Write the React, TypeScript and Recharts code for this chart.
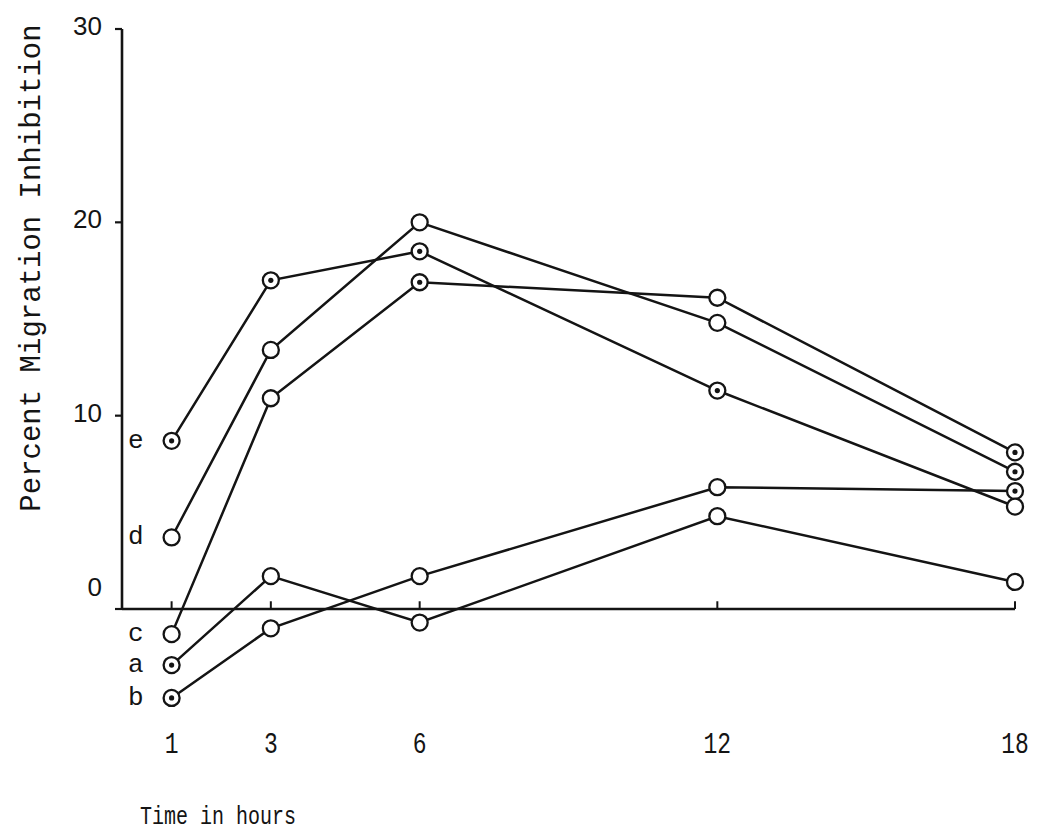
import { LineChart, Line, XAxis, YAxis, ReferenceLine, LabelList } from 'recharts';

// hours after treatment
const hours = [1, 3, 6, 12, 18];
const yTicks = [0, 10, 20, 30];

// percent migration inhibition
const seriesA = [-2.9, 1.7, -0.7, 4.8, 1.4];
const seriesB = [-4.6, -1.0, 1.7, 6.3, 6.1];
const seriesC = [-1.3, 10.9, 16.9, 16.1, 8.1];
const seriesD = [3.7, 13.4, 20.0, 14.8, 7.1];
const seriesE = [8.7, 17.0, 18.5, 11.3, 5.3];

// which points are drawn as a circle with a centre dot
const dotsA = [true, false, false, false, false];
const dotsB = [true, false, false, false, true];
const dotsC = [false, false, true, false, true];
const dotsD = [false, false, false, false, true];
const dotsE = [true, true, true, true, false];

const data = hours.map((h, i) => ({
    hour: h,
    a: seriesA[i],
    b: seriesB[i],
    c: seriesC[i],
    d: seriesD[i],
    e: seriesE[i],
}));

const series = [
    { key: 'a', dots: dotsA },
    { key: 'b', dots: dotsB },
    { key: 'c', dots: dotsC },
    { key: 'd', dots: dotsD },
    { key: 'e', dots: dotsE },
];

const ink = '#141414';
const mono = "'Liberation Mono', 'DejaVu Sans Mono', monospace";

function Marker({ cx, cy, dotted }: any) {
    if (cx == null || cy == null) return null;
    return (
        <g>
            <circle cx={cx} cy={cy} r={8} fill='#fff' stroke={ink} strokeWidth={2.3} />
            {dotted && <circle cx={cx} cy={cy} r={2.6} fill={ink} />}
        </g>
    );
}

function YTick({ x, y, payload }: any) {
    const shift = payload.value === 0 ? -22 : -3;
    return (
        <text
            x={x}
            y={y + shift}
            textAnchor='end'
            dominantBaseline='central'
            fontFamily="'Liberation Sans', Arial, sans-serif"
            fontSize={26}
            fill={ink}
        >
            {payload.value}
        </text>
    );
}

// typewriter digits in the scan are taller than they are wide
function XTick({ x, y, payload }: any) {
    return (
        <text
            transform={`translate(${x} ${y + 20}) scale(1 1.3)`}
            textAnchor='middle'
            fontFamily={mono}
            fontSize={23}
            fill={ink}
        >
            {payload.value}
        </text>
    );
}

export default function App() {
    return (
        <div style={{ width: 1044, height: 840, background: '#fff' }}>
            <style>{'body{margin:0}'}</style>
            <LineChart
                width={1044}
                height={840}
                data={data}
                margin={{ top: 29, right: 29, bottom: 85, left: 92 }}
            >
                <XAxis
                    type='number'
                    dataKey='hour'
                    domain={[0, 18]}
                    ticks={hours}
                    axisLine={false}
                    tickLine={false}
                    tick={<XTick />}
                    label={(props: any) => (
                        <text
                            transform={`translate(${props.viewBox.x + 18} ${props.viewBox.y + 99}) scale(1 1.3)`}
                            fontFamily={mono}
                            fontSize={20}
                            fill={ink}
                        >
                            Time in hours
                        </text>
                    )}
                />
                <YAxis
                    type='number'
                    domain={[-6, 30]}
                    ticks={yTicks}
                    width={30}
                    axisLine={false}
                    tickLine={{ stroke: ink, strokeWidth: 2.2 }}
                    tickSize={7}
                    tickMargin={13}
                    tick={<YTick />}
                    label={() => (
                        <text
                            x={32}
                            y={268}
                            transform='rotate(-90 32 268)'
                            textAnchor='middle'
                            dominantBaseline='central'
                            fontFamily={mono}
                            fontSize={29}
                            fill={ink}
                        >
                            Percent Migration Inhibition
                        </text>
                    )}
                />
                <ReferenceLine
                    segment={[
                        { x: 0, y: 0 },
                        { x: 0, y: 30 },
                    ]}
                    stroke={ink}
                    strokeWidth={2.6}
                />
                <ReferenceLine
                    segment={[
                        { x: 0, y: 0 },
                        { x: 18, y: 0 },
                    ]}
                    stroke={ink}
                    strokeWidth={2.6}
                />
                {hours.map((h) => (
                    <ReferenceLine
                        key={h}
                        segment={[
                            { x: h, y: 0 },
                            { x: h, y: 0.4 },
                        ]}
                        stroke={ink}
                        strokeWidth={2}
                    />
                ))}
                {series.map((s) => (
                    <Line
                        key={s.key}
                        type='linear'
                        dataKey={s.key}
                        stroke={ink}
                        strokeWidth={2.5}
                        isAnimationActive={false}
                        activeDot={false}
                        dot={(p: any) => (
                            <Marker
                                key={`${s.key}-${p.index}`}
                                cx={p.cx}
                                cy={p.cy}
                                dotted={s.dots[p.index]}
                            />
                        )}
                    >
                        <LabelList
                            dataKey={s.key}
                            content={(p: any) =>
                                p.index === 0 ? (
                                    <text
                                        x={p.x - 28}
                                        y={p.y}
                                        textAnchor='end'
                                        dominantBaseline='central'
                                        fontFamily={mono}
                                        fontSize={26}
                                        fill={ink}
                                    >
                                        {s.key}
                                    </text>
                                ) : null
                            }
                        />
                    </Line>
                ))}
            </LineChart>
        </div>
    );
}
